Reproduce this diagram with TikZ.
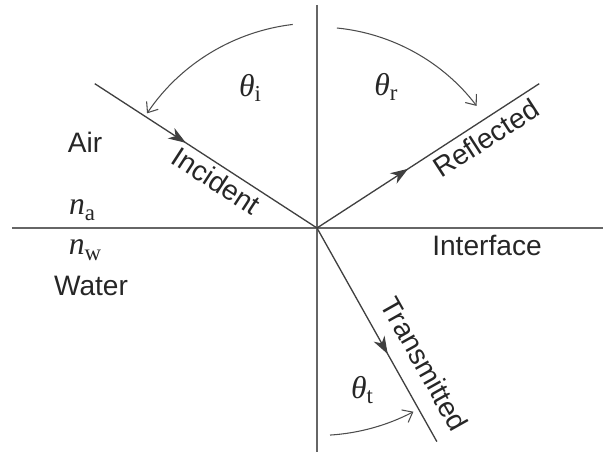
\documentclass[tikz,border=0pt]{standalone}
\usepackage{fontspec}
\setmainfont{Liberation Sans}
\newfontfamily\symfont{Liberation Serif}
\usepackage{tikz}
\usetikzlibrary{arrows.meta, decorations.markings, positioning, calc}
\tikzset{axis line/.style={draw,black!60,line width=1.1pt},
    ray/.style={draw,black!75,line width=0.75pt},
    angle arc/.style={draw,black!70,line width=0.6pt,-{Straight Barb[length=5pt,width=8pt]}},
    mid arrow/.style={postaction={decorate},decoration={markings,
        mark=at position #1 with {\arrow{Stealth[length=10pt,width=7pt,inset=3pt]}}}}}
\newcommand{\qsym}[2]{{\symfont\fontsize{18}{20}\selectfont\itshape #1}{\symfont\raisebox{-0.45ex}{\fontsize{13}{13}\selectfont #2}}}

\begin{document}
\begin{tikzpicture}[
  every node/.style={font=\fontsize{16}{19}\selectfont, text=black!85},
  >=Stealth
]
  \useasboundingbox (-6.34,-4.54) rectangle (5.72,4.56);

  % Points
  \coordinate (O) at (0,0);
  \coordinate (W) at (-6.1,0);
  \coordinate (E) at (5.72,0);
  \coordinate (N) at (0,4.46);
  \coordinate (S) at (0,-4.48);
  \coordinate (inc) at (147:5.3);
  \coordinate (refl) at (33:5.3);
  \coordinate (trans) at (-60.7:4.9);

  % Interface and normal
  \draw[axis line] (W) -- (E);
  \draw[axis line] (N) -- (S);

  % Rays
  \draw[ray, mid arrow=0.41] (inc) -- node[pos=.585, sloped, below=-1pt] (incl) {Incident} (O);
  \draw[ray, mid arrow=0.41] (O) -- node[pos=.72, sloped, below] (refll) {Reflected} (refl);
  \draw[ray, mid arrow=0.59] (O) -- node[pos=.70, sloped, above=6pt] (transl) {Transmitted} (trans);

  % Angle arcs
  \coordinate (ai) at (96.8:4.1);
  \coordinate (ar) at (84.3:4.02);
  \coordinate (at) at (-86.4:4.15);
  \draw[angle arc] (ai) arc[start angle=96.8, end angle=146, radius=4.1];
  \draw[angle arc] (ar) arc[start angle=84.3, end angle=37.4, radius=4.02];
  \draw[angle arc] (at) arc[start angle=-86.4, end angle=-62.3, radius=4.15];

  % Labels
  \node (thi) at (-1.34,2.8) {\qsym{θ}{i}};
  \node (thr) at (1.38,2.82) {\qsym{θ}{r}};
  \node (tht) at (0.9,-3.24) {\qsym{θ}{t}};
  \node (air) at (-4.64,1.72) {Air};
  \node (na) at (-4.7,0.36) {\qsym{n}{a}};
  \node (nw) at (-4.64,-0.44) {\qsym{n}{w}};
  \node (water) at (-4.52,-1.16) {Water};
  \node (iface) at (3.4,-0.34) {Interface};
\end{tikzpicture}
\end{document}
